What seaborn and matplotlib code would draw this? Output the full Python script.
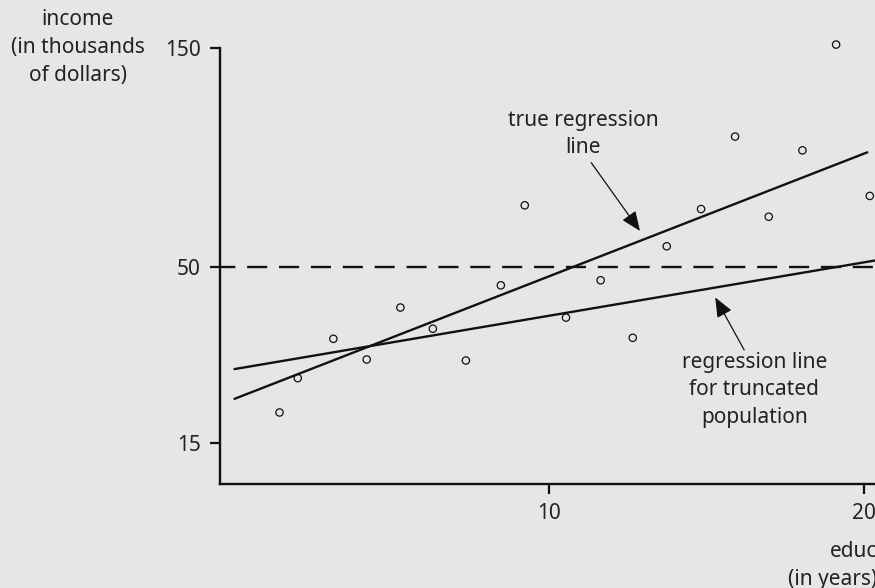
#truncated regression sketch: income vs education
import numpy as np
import pandas as pd
import seaborn as sns
from matplotlib import pyplot as plt

#data
educ = [1.43, 2.01, 3.14, 4.20, 5.27, 6.30, 7.35, 8.46, 9.22, 10.53,
        11.63, 12.65, 13.73, 14.82, 15.90, 16.97, 18.04, 19.11, 20.18]
income = [21.1, 27.9, 35.7, 31.6, 41.9, 37.7, 31.4, 46.3, 78.0, 39.9,
          47.3, 35.9, 59.3, 76.3, 109.4, 72.8, 103.1, 151.4, 82.3]

true_line_educ = [0.0, 20.1]
true_line_income = [23.8, 102.2]
trunc_line_educ = [0.0, 21.2]
trunc_line_income = [29.7, 54.9]

cutoff = 50
x_ticks = [10, 20]
y_ticks = [15, 50, 150]

pts = pd.DataFrame({'educ': educ, 'income': income})

#the income axis is not to scale in the original, so use a piecewise scale
def fwd(v):
    v = np.asarray(v, dtype=float)
    return np.where(v < 50, (v - 15) * 176.6 / 35, 176.6 + (v - 50) * 219 / 100)

def inv(t):
    t = np.asarray(t, dtype=float)
    return np.where(t < 176.6, 15 + t * 35 / 176.6, 50 + (t - 176.6) * 100 / 219)

bg = '#e6e6e6'
ink = '#111111'
txt = '#222222'
sns.set_style('ticks', {'axes.facecolor': bg, 'figure.facecolor': bg,
                        'axes.edgecolor': ink})
plt.rcParams['font.family'] = ['Noto Sans', 'DejaVu Sans']

fig = plt.figure(figsize=(8.75, 5.88), dpi=100)
ax = fig.add_axes([0.2518, 0.1769, 0.7768, 0.789])
ax.set_yscale('function', functions=(fwd, inv))

ax.axhline(cutoff, color=ink, lw=1.7, linestyle=(2.0, (8.5, 5.0)))
sns.lineplot(x=true_line_educ, y=true_line_income, ax=ax, color=ink, lw=1.7)
sns.lineplot(x=trunc_line_educ, y=trunc_line_income, ax=ax, color=ink, lw=1.7)
sns.scatterplot(data=pts, x='educ', y='income', ax=ax, s=28,
                facecolor='none', edgecolor=ink, linewidth=0.9, zorder=5,
                clip_on=False)

ax.set_xlim(-0.45, 21.14)
ax.set_ylim(6.93, 162.6)
ax.set_xticks(x_ticks)
ax.set_yticks(y_ticks)
ax.set_xticklabels([str(t) for t in x_ticks])
ax.set_yticklabels([str(t) for t in y_ticks])
ax.tick_params(length=7, width=1.6, labelsize=15, pad=7, colors=ink,
               labelcolor=txt)
ax.set_xlabel('')
ax.set_ylabel('')
for side in ['top', 'right']:
    ax.spines[side].set_visible(False)
for side in ['left', 'bottom']:
    ax.spines[side].set_linewidth(1.7)
ax.spines['left'].set_bounds(6.93, 150)

#annotations
arrow = dict(arrowstyle='-|>,head_length=0.6,head_width=0.25',
             mutation_scale=20, color=ink, lw=0.9, shrinkA=0, shrinkB=0)
ax.annotate('', xy=(12.88, 66.3), xytext=(11.33, 97.5), arrowprops=arrow)
ax.annotate('', xy=(15.27, 43.9), xytext=(16.19, 33.5), arrowprops=arrow)
ax.text(11.07, 110.6, 'true regression\nline', ha='center', va='center',
        fontsize=15, color=txt, linespacing=1.42)
ax.text(16.51, 25.6, 'regression line\nfor truncated\npopulation',
        ha='center', va='center', fontsize=15, color=txt, linespacing=1.42)

fig.text(0.0891, 0.9189, 'income\n(in thousands\nof dollars)', ha='center',
         va='center', fontsize=15, color=txt, linespacing=1.42)
fig.text(1.0023, 0.0388, 'educ\n(in years)', ha='right', va='center',
         multialignment='right', fontsize=15, color=txt, linespacing=1.42)

plt.savefig('out.png', dpi=100, facecolor=bg)
